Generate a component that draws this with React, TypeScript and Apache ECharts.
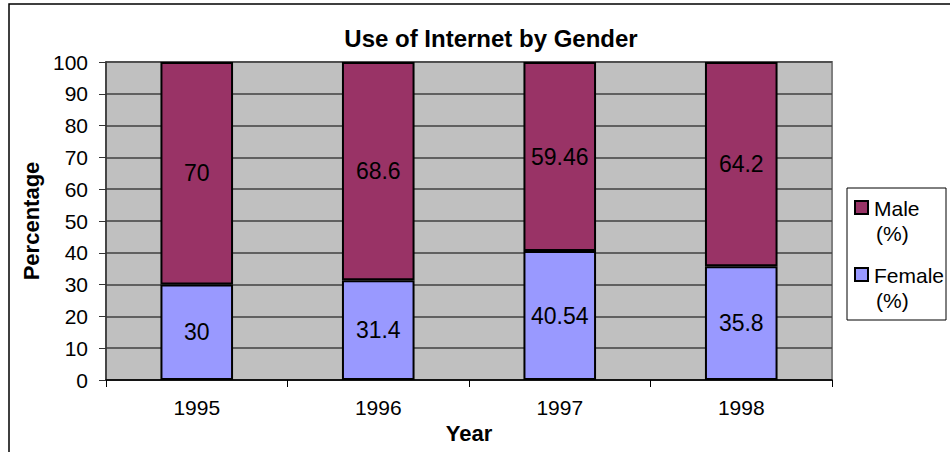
import React, { useEffect, useRef } from "react";
import * as echarts from "echarts";

const years = ["1995", "1996", "1997", "1998"];
const female = [30, 31.4, 40.54, 35.8];
const male = [70, 68.6, 59.46, 64.2];
const legendLines = [["Male", "(%)"], ["Female", "(%)"]];

const FONT = "'Liberation Sans', Arial, sans-serif";
const MALE_COLOR = "#993366";
const FEMALE_COLOR = "#9999FF";

export default function App() {
  const ref = useRef<HTMLDivElement>(null);
  useEffect(() => {
    const chart = echarts.init(ref.current!, null, { renderer: "svg" });
    const legendColors = [MALE_COLOR, FEMALE_COLOR];
    const legendItems: any[] = [];
    legendLines.forEach((lines, i) => {
      const y0 = 200 + i * 67;
      legendItems.push({
        type: "rect",
        shape: { x: 855, y: y0 + 1, width: 13, height: 13 },
        style: { fill: legendColors[i], stroke: "#000", lineWidth: 2 },
        silent: true,
      });
      lines.forEach((t, j) => {
        legendItems.push({
          type: "text",
          x: j === 0 ? 874 : 876,
          y: y0 + 8 + j * 25,
          style: {
            text: t,
            font: `21px ${FONT}`,
            fill: "#000",
            textVerticalAlign: "middle",
            verticalAlign: "middle",
          },
          silent: true,
        });
      });
    });
    chart.setOption({
      animation: false,
      backgroundColor: "#ffffff",
      textStyle: { fontFamily: FONT, color: "#000" },
      title: {
        text: "Use of Internet by Gender",
        left: 486,
        top: 21,
        textAlign: "center",
        textStyle: { fontFamily: FONT, fontSize: 24, fontWeight: "bold", color: "#000" },
      },
      graphic: [
        {
          type: "rect",
          shape: { x: 9, y: 4, width: 1000, height: 500 },
          style: { fill: "none", stroke: "#000", lineWidth: 1.5 },
          silent: true,
          z: -10,
        },
        {
          type: "rect",
          shape: { x: 847, y: 188, width: 99, height: 132 },
          style: { fill: "#fff", stroke: "#000", lineWidth: 1 },
          silent: true,
        },
        ...legendItems,
      ],
      legend: { show: false },
      grid: {
        left: 106,
        top: 62,
        width: 726,
        height: 318,
        show: true,
        backgroundColor: "#C0C0C0",
        borderColor: "#808080",
        borderWidth: 2,
      },
      xAxis: {
        type: "category",
        data: years,
        name: "Year",
        nameLocation: "middle",
        nameGap: 39,
        nameTextStyle: { fontFamily: FONT, fontSize: 22, fontWeight: "bold", color: "#000" },
        axisLine: { lineStyle: { color: "#000", width: 1.5 } },
        axisTick: { show: true, length: 7, lineStyle: { color: "#000" } },
        axisLabel: { fontFamily: FONT, fontSize: 21, color: "#000", margin: 17 },
      },
      yAxis: {
        type: "value",
        min: 0,
        max: 100,
        interval: 10,
        name: "Percentage",
        nameLocation: "middle",
        nameGap: 63,
        nameTextStyle: { fontFamily: FONT, fontSize: 22, fontWeight: "bold", color: "#000" },
        axisLine: { show: true, lineStyle: { color: "#333", width: 1.5 } },
        axisTick: { show: true, length: 7, lineStyle: { color: "#333" } },
        axisLabel: { fontFamily: FONT, fontSize: 21, color: "#000", margin: 18 },
        splitLine: { lineStyle: { color: "#404040", width: 1.5 } },
      },
      series: [
        {
          name: "Female (%)",
          type: "bar",
          stack: "total",
          data: female,
          barWidth: "40%",
          itemStyle: { color: FEMALE_COLOR, borderColor: "#000", borderWidth: 2 },
          label: { show: true, position: "inside", fontFamily: FONT, fontSize: 23, color: "#000" },
        },
        {
          name: "Male (%)",
          type: "bar",
          stack: "total",
          data: male,
          barWidth: "40%",
          itemStyle: { color: MALE_COLOR, borderColor: "#000", borderWidth: 2 },
          label: { show: true, position: "inside", fontFamily: FONT, fontSize: 23, color: "#000" },
        },
      ],
    });
    return () => chart.dispose();
  }, []);
  return (
    <div
      ref={ref}
      style={{ position: "fixed", left: 0, top: 0, width: 950, height: 452 }}
    />
  );
}
